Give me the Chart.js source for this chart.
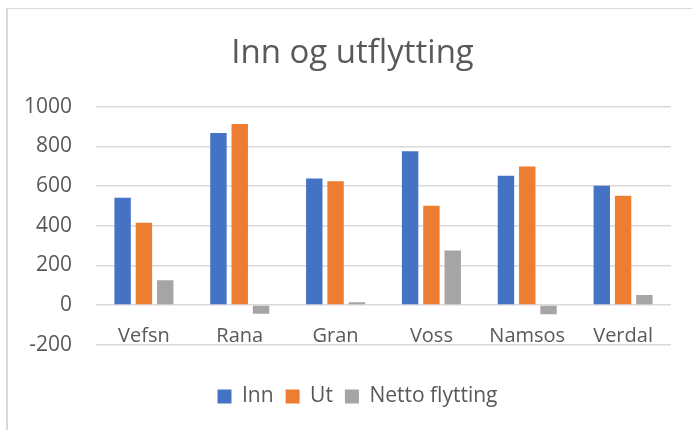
<!DOCTYPE html>
<html>
<head>
<meta charset="utf-8">
<script src="https://cdn.jsdelivr.net/npm/chart.js@4"></script>
<style>
  body { margin: 0; background: #fff; }
  #ramme {
    position: absolute; left: 6px; top: 8px; width: 686px; height: 422px;
    border-left: 2px solid #d9d9d9; border-top: 1px solid #d9d9d9;
  }
  #myChart { position: absolute; left: 0; top: 0; }
</style>
</head>
<body>
<div id="ramme"></div>
<canvas id="myChart" width="692" height="430"></canvas>
<script>
// --- DATA ---
const kommuner = ["Vefsn", "Rana", "Gran", "Voss", "Namsos", "Verdal"];
const inn = [540, 867, 637, 775, 651, 601];
const ut = [415, 912, 623, 500, 698, 551];
const netto = [125, -45, 14, 275, -47, 50];
const yTicks = [-200, 0, 200, 400, 600, 800, 1000];

const tekstFarge = "#595959";
const font = "'Open Sans', sans-serif";

const ctx = document.getElementById("myChart").getContext("2d");

// tittel og forklaring står litt til høyre for midten i originalen
const flyttTekst = {
  id: "flyttTekst",
  afterLayout(chart) {
    chart.legend.left += 9;
    chart.legend.right += 9;
    chart.titleBlock.left += 4;
    chart.titleBlock.right += 4;
  },
};

new Chart(ctx, {
  type: "bar",
  data: {
    labels: kommuner,
    datasets: [
      { label: "Inn", data: inn, backgroundColor: "#4472C4" },
      { label: "Ut", data: ut, backgroundColor: "#ED7D31" },
      { label: "Netto flytting", data: netto, backgroundColor: "#A5A5A5" },
    ],
  },
  options: {
    responsive: false,
    animation: false,
    datasets: { bar: { categoryPercentage: 0.667, barPercentage: 0.77 } },
    layout: { padding: { left: 26, right: 21, top: 0, bottom: 13 } },
    plugins: {
      title: {
        display: true,
        text: "Inn og utflytting",
        color: tekstFarge,
        font: { family: font, size: 33, weight: "normal" },
        padding: { top: 34, bottom: 33 },
      },
      legend: {
        position: "bottom",
        title: { display: true, text: " ", font: { size: 12 }, padding: { top: 0, bottom: 15 } },
        labels: {
          color: tekstFarge,
          font: { family: font, size: 21 },
          boxWidth: 14,
          boxHeight: 14,
          padding: 12,
        },
      },
      tooltip: { enabled: false },
    },
    scales: {
      x: {
        position: { y: 0 },
        grid: { display: false },
        border: { display: false },
        ticks: { color: tekstFarge, font: { family: font, size: 20 }, padding: 11 },
      },
      y: {
        min: yTicks[0],
        max: yTicks[yTicks.length - 1],
        afterBuildTicks: (axis) => { axis.ticks = yTicks.map((v) => ({ value: v })); },
        afterFit: (axis) => { axis.width = 70; },
        grid: { color: "#d9d9d9", lineWidth: 1.5, drawTicks: false },
        border: { display: false },
        ticks: {
          color: tekstFarge,
          font: { family: font, size: 21 },
          padding: 24,
          callback: (v) => String(v),
        },
      },
    },
  },
  plugins: [flyttTekst],
});
</script>
</body>
</html>
